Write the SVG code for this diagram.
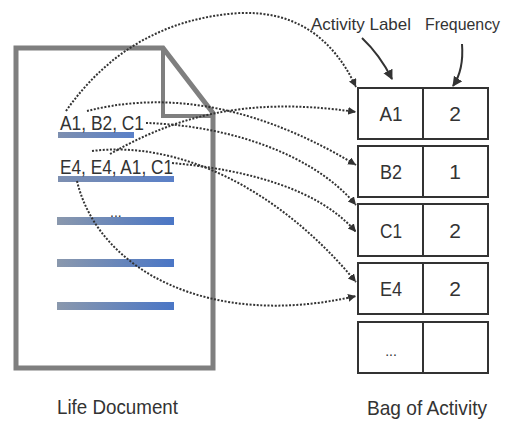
<svg xmlns="http://www.w3.org/2000/svg" width="507" height="421" viewBox="0 0 507 421">
<style>
  text { font-family: "Liberation Sans", Arial, sans-serif; fill: #333; }
  .lbl { font-size: 17px; }
  .cap { font-size: 21px; }
  .cell { font-size: 21px; text-anchor: middle; }
  .doc { fill: #fff; stroke: #7f7f7f; stroke-width: 5; stroke-linejoin: miter; }
  .fold { fill: none; stroke: #7f7f7f; stroke-width: 4; }
  .row { fill: #fff; stroke: #333; stroke-width: 2; }
  .div { stroke: #333; stroke-width: 2; }
  .dot { fill: none; stroke: #333; stroke-width: 2; stroke-dasharray: 2 1.6; marker-end: url(#ah); }
  .sol { fill: none; stroke: #333; stroke-width: 2; marker-end: url(#ah2); }
</style>
<defs>
  <linearGradient id="bar" x1="0" y1="0" x2="1" y2="0">
    <stop offset="0" stop-color="#8a98ad"/>
    <stop offset="1" stop-color="#4a76c6"/>
  </linearGradient>
  <linearGradient id="ul" x1="0" y1="0" x2="1" y2="0">
    <stop offset="0" stop-color="#7d8fb0"/>
    <stop offset="1" stop-color="#5a80c8"/>
  </linearGradient>
  <marker id="ah" markerUnits="userSpaceOnUse" markerWidth="9" markerHeight="9" refX="8" refY="4" orient="auto">
    <path d="M0,0 L8,4 L0,8 z" fill="#333"/>
  </marker>
  <marker id="ah2" markerUnits="userSpaceOnUse" markerWidth="11" markerHeight="11" refX="9" refY="5" orient="auto">
    <path d="M0,0 L10,5 L0,10 z" fill="#333"/>
  </marker>
</defs>

<g id="life-document">
  <path class="doc" d="M16,48 L163,48 L213,113 L213,368 L16,368 Z"/>
  <path class="fold" d="M163,48 L163,116 L213,116"/>
  <rect x="58" y="132" width="76" height="6" fill="url(#ul)"/>
  <rect x="58" y="176" width="116" height="6" fill="url(#ul)"/>
  <text class="cap" x="60" y="130" textLength="84" lengthAdjust="spacingAndGlyphs">A1, B2, C1</text>
  <text class="cap" x="60" y="174" textLength="113" lengthAdjust="spacingAndGlyphs">E4, E4, A1, C1</text>
  <text x="110" y="217" style="font-size:14px">...</text>
  <rect x="57" y="217" width="117" height="8" fill="url(#bar)"/>
  <rect x="57" y="259" width="117" height="8" fill="url(#bar)"/>
  <rect x="57" y="302" width="117" height="8" fill="url(#bar)"/>
  <text class="cap" x="57" y="414" textLength="121" lengthAdjust="spacingAndGlyphs">Life Document</text>
</g>

<g id="bag-of-activity">
  <g id="row-a1">
    <rect class="row" x="358" y="88" width="130" height="51"/>
    <line class="div" x1="423" y1="88" x2="423" y2="139"/>
    <text class="cell" x="391" y="121" textLength="23" lengthAdjust="spacingAndGlyphs">A1</text>
    <text class="cell" x="455" y="121">2</text>
  </g>
  <g id="row-b2">
    <rect class="row" x="358" y="146" width="130" height="51"/>
    <line class="div" x1="423" y1="146" x2="423" y2="197"/>
    <text class="cell" x="391" y="179" textLength="22" lengthAdjust="spacingAndGlyphs">B2</text>
    <text class="cell" x="455" y="179">1</text>
  </g>
  <g id="row-c1">
    <rect class="row" x="358" y="204" width="130" height="52"/>
    <line class="div" x1="423" y1="204" x2="423" y2="256"/>
    <text class="cell" x="391" y="238" textLength="22" lengthAdjust="spacingAndGlyphs">C1</text>
    <text class="cell" x="455" y="238">2</text>
  </g>
  <g id="row-e4">
    <rect class="row" x="358" y="263" width="130" height="51"/>
    <line class="div" x1="423" y1="263" x2="423" y2="314"/>
    <text class="cell" x="391" y="296" textLength="22" lengthAdjust="spacingAndGlyphs">E4</text>
    <text class="cell" x="455" y="296">2</text>
  </g>
  <g id="row-more">
    <rect class="row" x="358" y="322" width="130" height="51"/>
    <line class="div" x1="423" y1="322" x2="423" y2="373"/>
    <text class="cell" x="391" y="356" style="font-size:14px">...</text>
  </g>
  <text class="cap" x="367" y="415" textLength="120" lengthAdjust="spacingAndGlyphs">Bag of Activity</text>
</g>

<g id="header-labels">
  <text class="lbl" x="311" y="30" textLength="100" lengthAdjust="spacingAndGlyphs">Activity Label</text>
  <text class="lbl" x="425" y="30" style="font-size:16px" textLength="75" lengthAdjust="spacingAndGlyphs">Frequency</text>
</g>

<g id="connectors">
  <path class="sol" d="M362,38 Q380,55 392,79"/>
  <path class="sol" d="M462,44 Q464,70 453,86"/>
  <path class="dot" d="M66,111 Q130,20 240,13 Q320,10 356,87"/>
  <path class="dot" d="M87,111 C150,95 240,95 356,165"/>
  <path class="dot" d="M146,123 C220,125 310,150 356,205"/>
  <path class="dot" d="M110,154 C170,120 240,95 356,112"/>
  <path class="dot" d="M92,151 C180,140 280,190 356,282"/>
  <path class="dot" d="M172,163 C250,170 320,190 356,232"/>
  <path class="dot" d="M77,181 C98,270 210,330 356,296"/>
</g>
</svg>
